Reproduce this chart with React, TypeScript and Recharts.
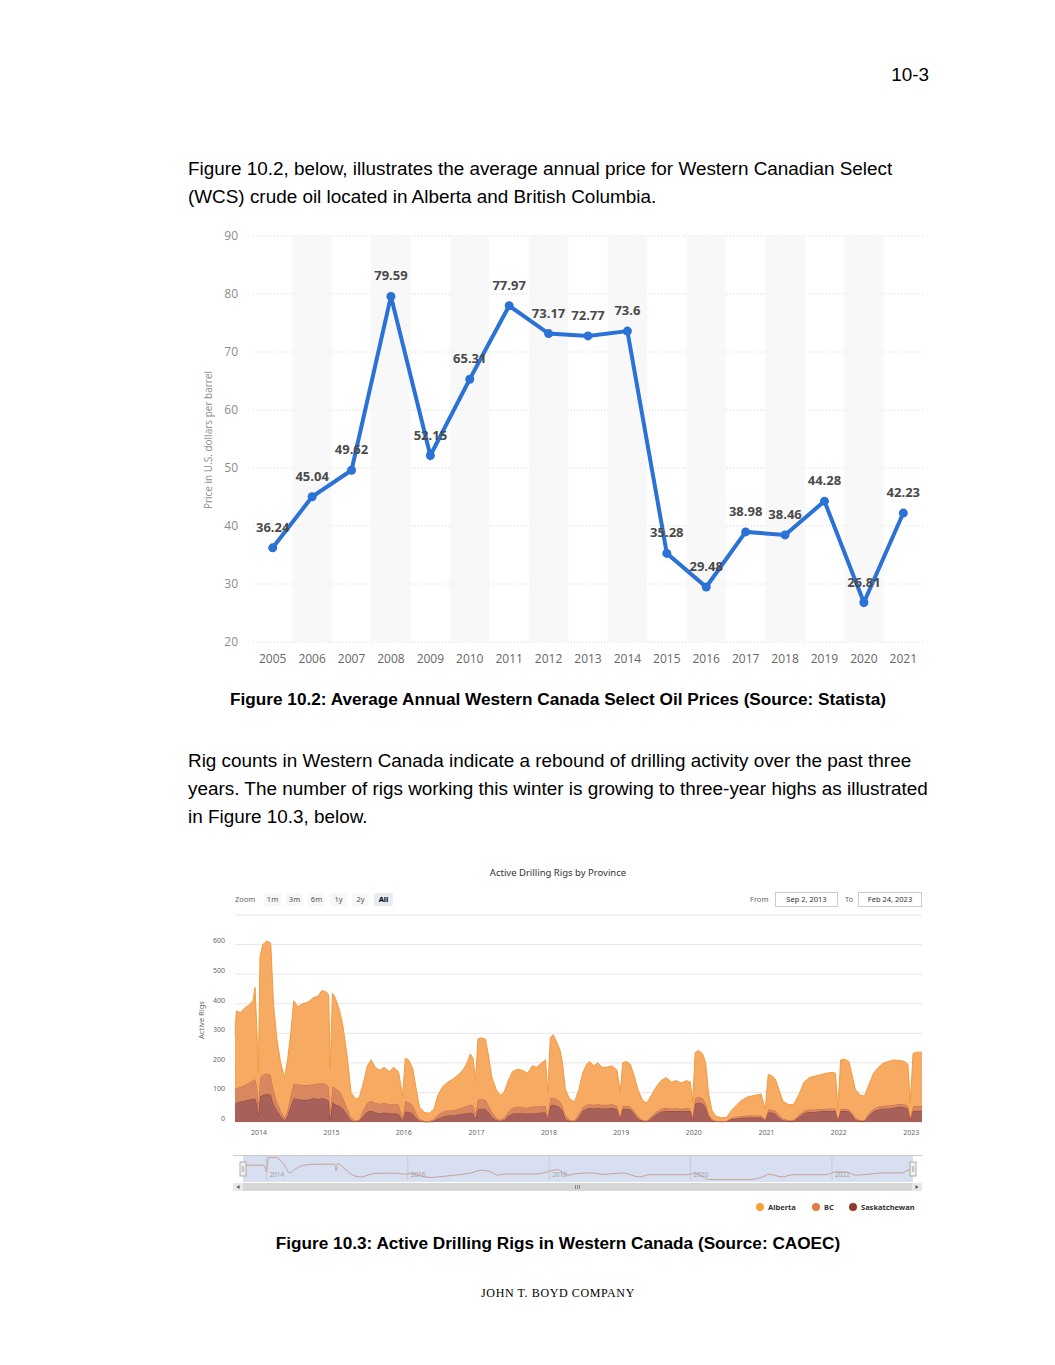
import React from 'react'
import {
  LineChart, Line, XAxis, YAxis, CartesianGrid, ReferenceArea, ReferenceLine, LabelList,
  AreaChart, Area,
} from 'recharts'

// Figure 10.2 – average annual WCS price (Statista)
const priceYears = [2005, 2006, 2007, 2008, 2009, 2010, 2011, 2012, 2013, 2014, 2015, 2016, 2017, 2018, 2019, 2020, 2021]
const wcsPrice = [36.24, 45.04, 49.62, 79.59, 52.15, 65.31, 77.97, 73.17, 72.77, 73.6, 35.28, 29.48, 38.98, 38.46, 44.28, 26.81, 42.23]
const priceTicks = [20, 30, 40, 50, 60, 70, 80, 90]
const shadedYears = [2006, 2008, 2010, 2012, 2014, 2016, 2018, 2020]

// Figure 10.3 – active drilling rigs by province (CAOEC)
const rigDates = [
  '2013-09-02', '2013-09-09', '2013-10-01', '2013-10-20', '2013-11-10', '2013-12-01', '2013-12-12', '2013-12-22', '2013-12-29',
  '2014-01-06', '2014-01-20', '2014-02-10', '2014-03-01', '2014-03-15', '2014-04-01', '2014-04-20', '2014-05-10', '2014-05-25',
  '2014-06-10', '2014-06-25', '2014-07-15', '2014-08-10', '2014-09-05', '2014-10-01', '2014-10-25', '2014-11-15', '2014-12-05',
  '2014-12-18', '2014-12-26',
  '2015-01-06', '2015-01-20', '2015-02-10', '2015-03-01', '2015-03-20', '2015-04-10', '2015-05-01', '2015-05-20', '2015-06-10',
  '2015-07-01', '2015-07-20', '2015-08-10', '2015-09-01', '2015-09-25', '2015-10-20', '2015-11-10', '2015-12-05', '2015-12-26',
  '2016-01-08', '2016-01-25', '2016-02-15', '2016-03-01', '2016-03-20', '2016-04-15', '2016-05-10', '2016-06-01', '2016-06-20',
  '2016-07-15', '2016-08-10', '2016-09-05', '2016-10-01', '2016-10-25', '2016-11-15', '2016-12-01', '2016-12-15', '2016-12-27',
  '2017-01-08', '2017-01-25', '2017-02-15', '2017-03-01', '2017-03-20', '2017-04-10', '2017-05-01', '2017-05-20', '2017-06-10',
  '2017-07-01', '2017-07-25', '2017-08-20', '2017-09-15', '2017-10-10', '2017-11-01', '2017-11-25', '2017-12-15', '2017-12-26',
  '2018-01-08', '2018-01-22', '2018-02-10', '2018-02-25', '2018-03-10', '2018-03-25', '2018-04-15', '2018-05-10', '2018-06-01',
  '2018-06-20', '2018-07-10', '2018-07-25', '2018-08-15', '2018-09-05', '2018-09-25', '2018-10-20', '2018-11-15', '2018-12-10',
  '2018-12-26',
  '2019-01-08', '2019-01-25', '2019-02-15', '2019-03-05', '2019-03-25', '2019-04-20', '2019-05-10', '2019-06-01', '2019-06-25',
  '2019-07-20', '2019-08-15', '2019-09-10', '2019-10-05', '2019-10-30', '2019-11-25', '2019-12-15', '2019-12-26',
  '2020-01-08', '2020-01-25', '2020-02-15', '2020-03-01', '2020-03-15', '2020-04-01', '2020-04-20', '2020-05-20', '2020-06-15',
  '2020-07-10', '2020-08-05', '2020-09-01', '2020-10-01', '2020-11-01', '2020-12-05', '2020-12-26',
  '2021-01-10', '2021-01-25', '2021-02-15', '2021-03-05', '2021-03-25', '2021-04-25', '2021-05-20', '2021-06-15', '2021-07-10',
  '2021-08-05', '2021-09-01', '2021-10-01', '2021-10-30', '2021-12-01', '2021-12-15', '2021-12-27',
  '2022-01-10', '2022-01-30', '2022-02-20', '2022-03-05', '2022-03-25', '2022-04-20', '2022-05-10', '2022-06-01', '2022-06-25',
  '2022-07-20', '2022-08-15', '2022-09-10', '2022-10-05', '2022-11-01', '2022-11-25', '2022-12-15', '2022-12-27',
  '2023-01-10', '2023-01-30', '2023-02-24',
]
const albertaRigs = [
  190, 260, 252, 260, 263, 270, 310, 180, 110,
  410, 440, 447, 445, 290, 210, 160, 135, 170,
  210, 280, 262, 275, 280, 292, 295, 313, 312,
  310, 140,
  315, 305, 275, 240, 180, 85, 73, 72, 90,
  125, 138, 120, 113, 120, 110, 123, 110, 73,
  145, 142, 125, 85, 40, 29, 27, 35, 65,
  85, 95, 105, 115, 125, 145, 170, 160, 110,
  205, 207, 205, 170, 115, 95, 82, 85, 105,
  122, 126, 125, 117, 138, 133, 145, 155, 80,
  205, 213, 192, 175, 145, 85, 70, 63, 80,
  115, 137, 145, 132, 140, 127, 127, 130, 120,
  80,
  145, 150, 143, 120, 90, 64, 60, 70, 83,
  95, 102, 89, 93, 87, 93, 90, 45,
  155, 157, 150, 135, 70, 30, 16, 11, 12,
  25, 40, 55, 63, 68, 73, 33,
  118, 116, 107, 85, 58, 52, 52, 70, 97,
  108, 113, 116, 120, 122, 120, 35,
  165, 167, 161, 135, 95, 84, 83, 95, 120,
  133, 145, 149, 152, 146, 145, 140, 50,
  180, 182, 182,
]
const bcRigs = [
  50, 50, 48, 53, 57, 62, 65, 60, 40,
  65, 68, 70, 68, 50, 30, 20, 10, 20,
  35, 50, 50, 50, 50, 48, 52, 52, 50,
  48, 30,
  55, 55, 50, 35, 25, 10, 3, 5, 20,
  30, 34, 32, 32, 33, 30, 32, 32, 10,
  35, 33, 27, 20, 7, 2, 2, 5, 13,
  17, 18, 18, 20, 22, 25, 28, 25, 20,
  33, 33, 30, 25, 17, 9, 4, 9, 15,
  20, 22, 20, 20, 22, 22, 23, 23, 12,
  25, 24, 23, 20, 15, 15, 5, 3, 15,
  12, 13, 12, 12, 12, 12, 12, 12, 13,
  10,
  10, 10, 10, 10, 10, 3, 3, 8, 10,
  10, 10, 9, 9, 9, 9, 9, 12,
  18, 19, 18, 15, 10, 5, 2, 2, 2,
  5, 6, 6, 7, 7, 7, 5,
  10, 10, 10, 10, 6, 3, 4, 7, 8,
  8, 8, 8, 8, 8, 8, 5,
  8, 8, 8, 7, 7, 3, 2, 8, 9,
  10, 10, 10, 10, 10, 10, 10, 7,
  15, 16, 16,
]
const saskRigs = [
  60, 65, 70, 72, 75, 78, 80, 60, 20,
  85, 92, 95, 92, 60, 40, 20, 5, 20,
  55, 80, 78, 75, 75, 80, 78, 80, 78,
  72, 10,
  65, 60, 55, 45, 25, 5, 2, 3, 20,
  35, 38, 33, 30, 32, 30, 30, 28, 5,
  35, 35, 28, 15, 3, 1, 1, 5, 12,
  18, 22, 22, 25, 28, 30, 32, 30, 10,
  42, 45, 45, 35, 18, 6, 4, 6, 20,
  28, 30, 30, 28, 30, 30, 32, 32, 8,
  55, 58, 55, 50, 40, 10, 3, 2, 15,
  38, 45, 48, 46, 48, 46, 46, 48, 42,
  10,
  45, 45, 42, 30, 10, 3, 2, 12, 25,
  35, 38, 37, 38, 36, 38, 36, 8,
  62, 66, 62, 50, 20, 5, 2, 1, 2,
  10, 12, 14, 15, 15, 15, 5,
  32, 32, 28, 15, 6, 3, 4, 18, 30,
  34, 34, 36, 37, 38, 37, 5,
  37, 37, 36, 28, 8, 3, 3, 22, 36,
  42, 45, 46, 48, 52, 50, 45, 8,
  37, 38, 38,
]
const rigTicks = [0, 100, 200, 300, 400, 500, 600, 700]
const rigYears = [2014, 2015, 2016, 2017, 2018, 2019, 2020, 2021, 2022, 2023]

// navigator strip (smoothed series)
const navDates = [
  '2013-09-02', '2013-12-20', '2014-01-01', '2014-01-12', '2014-02-17', '2014-04-04', '2014-05-01', '2014-06-03', '2014-07-16',
  '2014-09-23', '2014-12-20', '2014-12-27', '2015-01-05', '2015-02-08', '2015-03-24', '2015-05-05', '2015-06-25', '2015-08-18',
  '2015-11-11', '2015-12-15', '2016-01-18', '2016-03-01', '2016-05-01', '2016-06-05', '2016-08-30', '2016-11-24', '2017-01-14',
  '2017-03-07', '2017-04-11', '2017-05-14', '2017-11-01', '2018-01-10', '2018-02-14', '2018-04-05', '2018-05-27', '2018-08-13',
  '2018-10-04', '2019-01-14', '2019-04-12', '2019-06-01', '2019-12-08', '2020-01-28', '2020-04-07', '2020-10-29', '2021-01-07',
  '2021-02-09', '2021-04-20', '2021-06-13', '2021-12-01', '2022-01-21', '2022-03-13', '2022-05-03', '2022-07-11', '2022-09-18',
  '2022-12-29', '2023-02-01', '2023-02-24',
]
const navRigs = [
  395, 395, 216, 602, 602, 395, 189, 307, 395,
  422, 422, 243, 441, 307, 128, 82, 154, 181,
  181, 154, 173, 120, 66, 82, 128, 189, 262,
  216, 128, 162, 162, 243, 280, 128, 173, 189,
  150, 189, 82, 141, 141, 173, 12, 12, 82,
  154, 82, 141, 141, 216, 216, 128, 154, 189,
  189, 262, 262,
]
const navYears = [2014, 2016, 2018, 2020, 2022]
const zoomButtons = ['1m', '3m', '6m', '1y', '2y', 'All']
const provinces = [
  { name: 'Alberta', color: '#f7a035' },
  { name: 'BC', color: '#e07b45' },
  { name: 'Saskatchewan', color: '#8c3b2d' },
]

const ts = (d: string) => Date.parse(d + 'T00:00:00Z')

const priceData = priceYears.map((year, i) => ({ year, price: wcsPrice[i] }))
const rigData = rigDates.map((d, i) => ({ t: ts(d), alberta: albertaRigs[i], bc: bcRigs[i], sask: saskRigs[i] }))
const navData = navDates.map((d, i) => ({ t: ts(d), v: navRigs[i] }))
const rigDomain = [ts(rigDates[0]), ts(rigDates[rigDates.length - 1])]
const rigYearTicks = rigYears.map(y => ts(`${y}-01-01`))

const BLUE = '#2a72d6'
const hc = '"Noto Sans", "Open Sans", sans-serif'
const os = '"Open Sans", sans-serif'

const RigYTick = (props: any) => {
  const { x, y, payload } = props
  if (payload.value === 700) return <g />
  return (
    <text x={x} y={y - 3} textAnchor="end" dominantBaseline="middle" fontSize={7} fill="#666" fontFamily={hc}>
      {payload.value}
    </text>
  )
}

const RigXTick = (props: any) => {
  const { x, y, payload } = props
  return (
    <text x={x} y={y + 7} textAnchor="middle" fontSize={7} fill="#666" fontFamily={hc}>
      {new Date(payload.value).getUTCFullYear()}
    </text>
  )
}

const abs = (left: number, top: number, extra: React.CSSProperties = {}): React.CSSProperties => ({
  position: 'absolute', left, top, ...extra,
})

export default function App() {
  const body: React.CSSProperties = { fontSize: 18.9, lineHeight: '28px', color: '#000', whiteSpace: 'pre' }
  const caption: React.CSSProperties = { fontSize: 17.2, fontWeight: 'bold', lineHeight: '24px', textAlign: 'center', width: 800 }
  const legendLeft = [756, 812, 849]

  return (
    <div style={{ position: 'absolute', left: 0, top: 0, width: 1055, height: 1365, background: '#fff', fontFamily: '"Liberation Sans", Arial, sans-serif' }}>
      <div style={abs(830, 61, { width: 99, textAlign: 'right', fontSize: 18.9, lineHeight: '28px' })}>10-3</div>

      <div style={abs(188, 155, body)}>
        {'Figure 10.2, below, illustrates the average annual price for Western Canadian Select\n(WCS) crude oil located in Alberta and British Columbia.'}
      </div>

      {/* Figure 10.2 */}
      <svg style={abs(195, 360)} width={30} height={160}>
        <text transform="translate(14,80) rotate(-90)" textAnchor="middle" dominantBaseline="middle"
          fontSize={10} fill="#8c8c8c" fontFamily={os}>
          Price in U.S. dollars per barrel
        </text>
      </svg>
      <div style={abs(190, 226)}>
        <LineChart width={740} height={450} data={priceData} margin={{ top: 10, right: 7, bottom: 4, left: 0 }}>
          <CartesianGrid vertical={false} stroke="#d4d4d4" strokeDasharray="1 2" />
          {shadedYears.map(y => (
            <ReferenceArea key={y} x1={y - 0.5} x2={y + 0.5} fill="#f5f5f5" fillOpacity={0.7} stroke="none" />
          ))}
          <XAxis dataKey="year" type="number" domain={[2004.5, 2021.5]} ticks={priceYears} interval={0}
            axisLine={false} tickLine={false} tickSize={0} tickMargin={12} height={30}
            tick={{ fill: '#666', fontSize: 12, fontFamily: os }} />
          <YAxis domain={[20, 90]} ticks={priceTicks} width={63} axisLine={false} tickLine={false} tickSize={0} tickMargin={15}
            tick={{ fill: '#8c8c8c', fontSize: 12, fontFamily: os }} />
          <Line type="linear" dataKey="price" stroke={BLUE} strokeWidth={4}
            dot={{ r: 4.5, fill: BLUE, stroke: BLUE, strokeWidth: 0 }} isAnimationActive={false}>
            <LabelList dataKey="price" position="top" offset={16} fill="#4a4a4a" fontSize={13} fontWeight="bold" fontFamily={os} />
          </Line>
        </LineChart>
      </div>

      <div style={abs(158, 687, caption)}>
        Figure 10.2: Average Annual Western Canada Select Oil Prices (Source: Statista)
      </div>

      <div style={abs(188, 747, body)}>
        {'Rig counts in Western Canada indicate a rebound of drilling activity over the past three\nyears. The number of rigs working this winter is growing to three-year highs as illustrated\nin Figure 10.3, below.'}
      </div>

      {/* Figure 10.3 */}
      <div style={abs(358, 866, { width: 400, textAlign: 'center', fontSize: 9.5, color: '#333', fontFamily: hc })}>
        Active Drilling Rigs by Province
      </div>
      <div style={abs(235, 893, { fontSize: 7.5, color: '#666', fontFamily: hc, lineHeight: '13px' })}>Zoom</div>
      <div style={abs(264, 893, { display: 'flex', gap: 5, fontFamily: hc })}>
        {zoomButtons.map(b => (
          <div key={b} style={{
            width: b === 'All' ? 19 : 17, height: 13, lineHeight: '13px', textAlign: 'center', fontSize: 7.5,
            background: b === 'All' ? '#e6ebf5' : '#f7f7f7', color: b === 'All' ? '#000' : '#555',
            fontWeight: b === 'All' ? 'bold' : 'normal', borderRadius: 2,
          }}>{b}</div>
        ))}
      </div>
      <div style={abs(750, 893, { fontSize: 7.5, color: '#666', fontFamily: hc, lineHeight: '13px' })}>From</div>
      <div style={abs(775, 892, { width: 61, height: 13, border: '1px solid #ccc', fontSize: 7.5, color: '#333', fontFamily: hc, lineHeight: '13px', textAlign: 'center' })}>Sep 2, 2013</div>
      <div style={abs(845, 893, { fontSize: 7.5, color: '#666', fontFamily: hc, lineHeight: '13px' })}>To</div>
      <div style={abs(858, 892, { width: 62, height: 13, border: '1px solid #ccc', fontSize: 7.5, color: '#333', fontFamily: hc, lineHeight: '13px', textAlign: 'center' })}>Feb 24, 2023</div>

      <svg style={abs(188, 980)} width={24} height={80}>
        <text transform="translate(14,40) rotate(-90)" textAnchor="middle" dominantBaseline="middle" fontSize={7.5} fill="#666" fontFamily={hc}>
          Active Rigs
        </text>
      </svg>
      <div style={abs(190, 905)}>
        <AreaChart width={740} height={238} data={rigData} margin={{ top: 10, right: 8, bottom: 0, left: 0 }}>
          <CartesianGrid vertical={false} stroke="#e6e6e6" />
          <XAxis dataKey="t" type="number" domain={rigDomain} ticks={rigYearTicks} interval={0}
            axisLine={false} tickLine={false} tickSize={0} tickMargin={6} height={21} tick={<RigXTick />} />
          <YAxis domain={[0, 700]} ticks={rigTicks} width={45} axisLine={false} tickLine={false} tickSize={0} tickMargin={10}
            tick={<RigYTick />} />
          <Area type="linear" dataKey="sask" stackId="rigs" stroke="#8d4034" strokeWidth={1} fill="#a8605a" fillOpacity={1} isAnimationActive={false} />
          <Area type="linear" dataKey="bc" stackId="rigs" stroke="#cf6e40" strokeWidth={1} fill="#d8875f" fillOpacity={1} isAnimationActive={false} />
          <Area type="linear" dataKey="alberta" stackId="rigs" stroke="#f29a3e" strokeWidth={1} fill="#f6aa62" fillOpacity={1} isAnimationActive={false} />
        </AreaChart>
      </div>

      {/* navigator */}
      <div style={abs(233, 1155, { width: 689, height: 1, background: '#cccccc' })} />
      <div style={abs(243, 1156, { width: 670, height: 26, background: '#d8dff0' })} />
      <div style={abs(243, 1156)}>
        <LineChart width={670} height={26} data={navData} margin={{ top: 0, right: 0, bottom: 2, left: 0 }}>
          <XAxis dataKey="t" type="number" domain={rigDomain} hide />
          <YAxis domain={[0, 640]} hide />
          {navYears.map(y => (
            <ReferenceLine key={y} x={ts(`${y}-01-01`)} stroke="#c4cbe0" strokeWidth={1}
              label={{ value: String(y), position: 'insideBottomLeft', offset: 3, fontSize: 6.5, fill: '#a0a0a0', fontFamily: hc }} />
          ))}
          <Line type="monotone" dataKey="v" stroke="#c7a199" strokeWidth={1} dot={false} isAnimationActive={false} />
        </LineChart>
      </div>
      <svg style={abs(230, 1158)} width={700} height={36}>
        <rect x={10} y={4} width={6} height={14} fill="#f2f2f2" stroke="#999" strokeWidth={0.8} />
        <line x1={12.3} y1={8} x2={12.3} y2={14} stroke="#999" strokeWidth={0.6} />
        <line x1={13.7} y1={8} x2={13.7} y2={14} stroke="#999" strokeWidth={0.6} />
        <rect x={680} y={4} width={6} height={14} fill="#f2f2f2" stroke="#999" strokeWidth={0.8} />
        <line x1={682.3} y1={8} x2={682.3} y2={14} stroke="#999" strokeWidth={0.6} />
        <line x1={683.7} y1={8} x2={683.7} y2={14} stroke="#999" strokeWidth={0.6} />
        <rect x={3} y={25} width={689} height={8} fill="#d6d6d6" />
        <rect x={3} y={25} width={10} height={8} fill="#e8e8e8" />
        <rect x={682} y={25} width={10} height={8} fill="#e8e8e8" />
        <path d="M9.5,27 L6.5,29 L9.5,31 Z" fill="#555" />
        <path d="M685.5,27 L688.5,29 L685.5,31 Z" fill="#555" />
        <line x1={345.5} y1={27} x2={345.5} y2={31} stroke="#555" strokeWidth={0.6} />
        <line x1={347.5} y1={27} x2={347.5} y2={31} stroke="#555" strokeWidth={0.6} />
        <line x1={349.5} y1={27} x2={349.5} y2={31} stroke="#555" strokeWidth={0.6} />
      </svg>

      {/* legend */}
      {provinces.map((p, i) => (
        <div key={p.name} style={abs(legendLeft[i], 1201, { display: 'flex', alignItems: 'center', fontFamily: hc, fontSize: 7.5, fontWeight: 'bold', color: '#333', lineHeight: '12px' })}>
          <span style={{ width: 8, height: 8, borderRadius: 4, background: p.color, marginRight: 4 }} />
          <span>{p.name}</span>
        </div>
      ))}

      <div style={abs(158, 1231, caption)}>
        Figure 10.3: Active Drilling Rigs in Western Canada (Source: CAOEC)
      </div>

      <div style={abs(358, 1285, { width: 400, textAlign: 'center', fontFamily: '"Liberation Serif", "Times New Roman", serif', fontSize: 12, letterSpacing: 0.6, lineHeight: '16px' })}>
        JOHN T. BOYD COMPANY
      </div>
    </div>
  )
}
